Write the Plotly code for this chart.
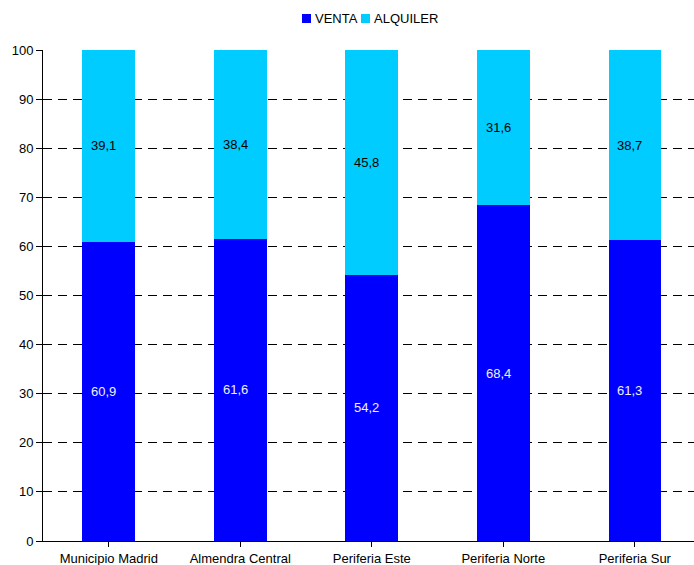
import plotly.graph_objects as go

categories = ["Municipio Madrid", "Almendra Central", "Periferia Este", "Periferia Norte", "Periferia Sur"]
venta = [60.9, 61.6, 54.2, 68.4, 61.3]
alquiler = [39.1, 38.4, 45.8, 31.6, 38.7]
y_ticks = [0, 10, 20, 30, 40, 50, 60, 70, 80, 90, 100]
series_names = ["VENTA", "ALQUILER"]
series_colors = ["#0000FF", "#00CCFF"]

FONT = "Liberation Sans, Arial, sans-serif"

W, H = 694, 565
ML, MR, MT, MB = 43, 0, 50, 24
PW, PH = W - ML - MR, H - MT - MB


def px_x(p):
    return (p - ML) / PW


def px_y(p):
    return (H - MB - p) / PH


def fmt(v):
    return f"{v:.1f}".replace(".", ",")


fig = go.Figure()
fig.add_trace(go.Bar(x=list(range(len(categories))), y=venta, name=series_names[0],
                     marker=dict(color=series_colors[0], line=dict(width=0)), width=0.4,
                     showlegend=False))
fig.add_trace(go.Bar(x=list(range(len(categories))), y=alquiler, name=series_names[1],
                     marker=dict(color=series_colors[1], line=dict(width=0)), width=0.4,
                     showlegend=False))

annotations = []
for i, (v, a) in enumerate(zip(venta, alquiler)):
    annotations.append(dict(x=i, y=v / 2, text=fmt(v), showarrow=False, xshift=-5,
                            font=dict(family=FONT, size=13, color="#F0F0FF")))
    annotations.append(dict(x=i, y=v + a / 2, text=fmt(a), showarrow=False, xshift=-5,
                            font=dict(family=FONT, size=13, color="#000000")))

# custom compact legend (top centre)
shapes = []
legend_sq_left = [302, 361]
for name, color, sx in zip(series_names, series_colors, legend_sq_left):
    shapes.append(dict(type="rect", xref="paper", yref="paper",
                       x0=px_x(sx), x1=px_x(sx + 9), y0=px_y(23), y1=px_y(14),
                       fillcolor=color, line=dict(width=0)))
    annotations.append(dict(xref="paper", yref="paper", x=px_x(sx + 11), y=px_y(18.5),
                            xanchor="left", yanchor="middle", text=name, showarrow=False,
                            font=dict(family=FONT, size=13, color="#000000")))

fig.update_layout(
    width=W, height=H,
    barmode="stack",
    plot_bgcolor="white", paper_bgcolor="white",
    margin=dict(l=ML, r=MR, t=MT, b=MB),
    font=dict(family=FONT, size=13, color="#000000"),
    showlegend=False,
    annotations=annotations,
    shapes=shapes,
    xaxis=dict(
        range=[-0.5, 4.45],
        tickmode="array", tickvals=list(range(len(categories))), ticktext=categories,
        tickson="boundaries", ticks="outside", ticklen=5, tickcolor="black",
        showline=True, linecolor="black", linewidth=1,
        showgrid=False, zeroline=False,
    ),
    yaxis=dict(
        range=[0, 100], tickvals=y_ticks,
        ticks="outside", ticklen=6, tickcolor="black",
        showline=True, linecolor="black", linewidth=1,
        showgrid=True, gridcolor="#000000", gridwidth=1, griddash="9px,6px",
        zeroline=False,
    ),
)

fig.write_html("out.html")
